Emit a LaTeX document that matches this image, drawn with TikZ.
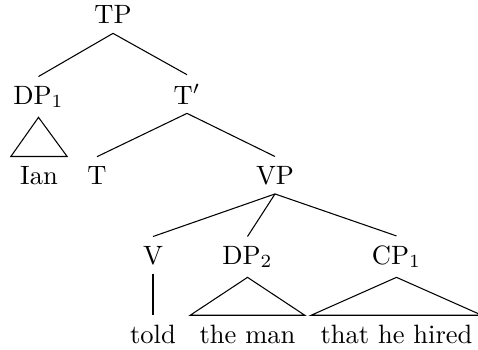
\documentclass[tikz,border=0pt]{standalone}
\begin{document}
\begin{tikzpicture}[x=0.377pt,y=-0.377pt,
  lab/.style={anchor=base,inner sep=3.33pt},
  branch/.style={line width=0.4pt}]
\useasboundingbox (0,0) rectangle (478,349);
\node[lab] (TP) at (113,24) {TP};
\node[lab] (DP1) at (38.5,104) {DP$_1$};
\node[lab] (Tbar) at (187,104) {T$'$};
\node[lab] (Ian) at (39,184) {Ian};
\node[lab] (T) at (97,184) {T};
\node[lab] (VP) at (275,184) {VP};
\node[lab] (V) at (153,264) {V};
\node[lab] (DP2) at (247.5,264) {DP$_2$};
\node[lab] (CP1) at (396.5,264) {CP$_1$};
\node[lab] (told) at (153,343) {told};
\node[lab] (theman) at (247.5,343) {the man};
\node[lab] (that) at (396.5,343) {that he hired};
\draw[branch] (TP.south) -- (DP1.north);
\draw[branch] (TP.south) -- (Tbar.north);
\draw[branch] (DP1.south) -- (Ian.north west) -- (Ian.north east) -- cycle;
\draw[branch] (Tbar.south) -- (T.north);
\draw[branch] (Tbar.south) -- (VP.north);
\draw[branch] (VP.south) -- (V.north);
\draw[branch] (VP.south) -- (DP2.north);
\draw[branch] (VP.south) -- (CP1.north);
\draw[branch] (V.south) -- (told.north);
\draw[branch] (DP2.south) -- (theman.north west) -- (theman.north east) -- cycle;
\draw[branch] (CP1.south) -- (that.north west) -- (that.north east) -- cycle;
\end{tikzpicture}
\end{document}
